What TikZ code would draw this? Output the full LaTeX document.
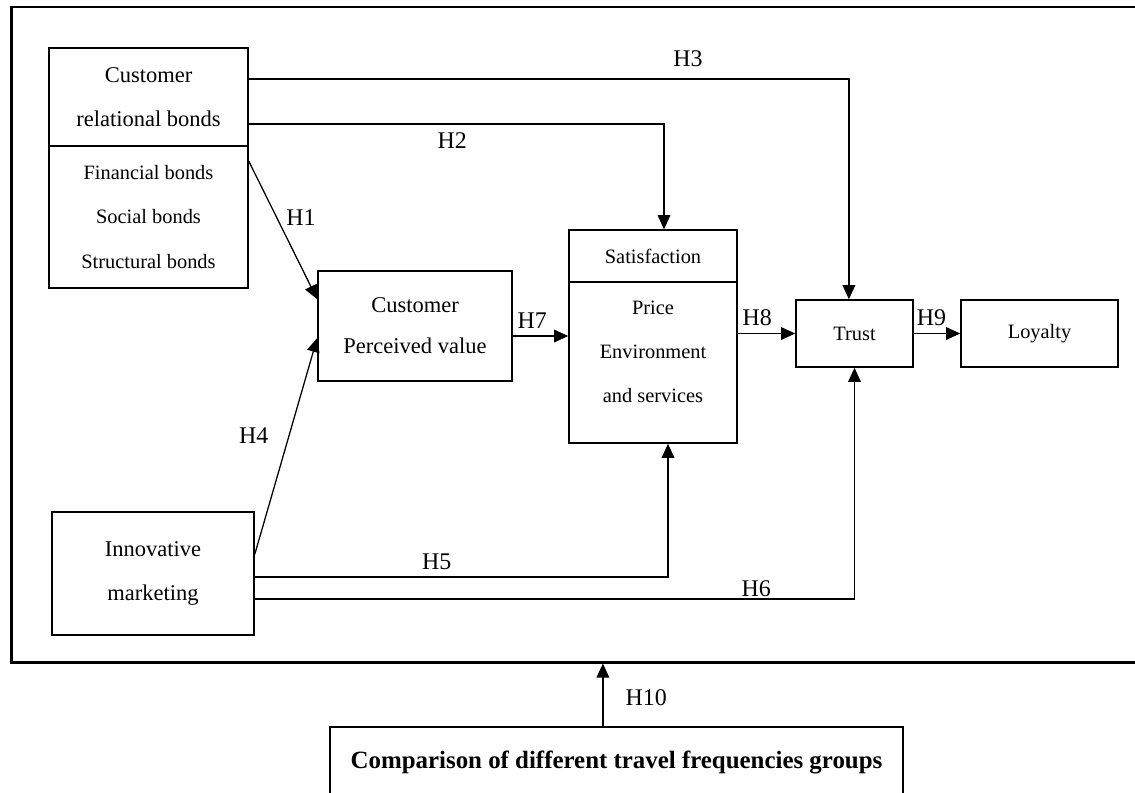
\documentclass[tikz,border=0pt]{standalone}
\usepackage{fontspec}
\setmainfont{Liberation Serif}
\usetikzlibrary{arrows.meta}

\begin{document}
\begin{tikzpicture}[
  x=0.025cm, y=-0.025cm,
  box/.style={draw, line width=1.1pt, rectangle, align=center, inner sep=0pt, font={\fontsize{14.5}{31.3}\selectfont}},
  head/.style={box, font={\fontsize{16}{31.3}\selectfont}},
  frame/.style={draw, line width=2pt, rectangle, minimum width=28.2cm, minimum height=16.375cm},
  arr/.style={-{Triangle[length=10pt,width=9pt]}, line width=0.9pt},
  lbl/.style={font={\fontsize{17}{20}\selectfont}, inner sep=0pt}
]
\useasboundingbox (0,0) rectangle (1135,792);

% outer frame (right side runs off the page)
\node[frame] (frame) at (576,334.5) {};

% relational bonds (two-part box)
\node[head, minimum width=4.975cm, minimum height=2.45cm] (crbTop) at (148.5,97) {Customer\\relational bonds};
\node[box, minimum width=4.975cm, minimum height=3.55cm] (crbBot) at (148.5,217) {Financial bonds\\Social bonds\\Structural bonds};

% perceived value
\node[head, font={\fontsize{16}{29}\selectfont}, minimum width=4.85cm, minimum height=2.75cm] (cpv) at (415,326) {Customer\\Perceived value};

% satisfaction (two-part box, items sit high)
\node[box, minimum width=4.2cm, minimum height=1.3cm] (satTop) at (653,256) {Satisfaction};
\node[box, minimum width=4.2cm, minimum height=4.025cm] (satBot) at (653,362.5) {Price\\Environment\\and services\\[-15.7pt]\mbox{}};

% trust and loyalty
\node[box, minimum width=2.925cm, minimum height=1.675cm] (trust) at (854.5,333.5) {Trust};
\node[box, minimum width=3.925cm, minimum height=1.675cm] (loyal) at (1039.5,333.5) {Loyalty};

% innovative marketing
\node[head, minimum width=5.05cm, minimum height=3.075cm] (innov) at (153,573.5) {Innovative\\marketing};

% group comparison (bottom runs off the page)
\node[box, font={\fontsize{17.7}{20}\selectfont\bfseries}, minimum width=14.325cm, minimum height=1.75cm] (cmp) at (616.5,762) {Comparison of different travel frequencies groups};

% relational bonds -> trust / satisfaction / value
\draw[arr] ([yshift=0.45cm]crbTop.east) -| node[lbl, pos=0.366, above=0.3cm] {H3} ([xshift=-0.14cm]trust.north);
\draw[arr] ([yshift=-0.675cm]crbTop.east) -| node[lbl, pos=0.245, below=0.2cm] {H2} ([xshift=0.275cm]satTop.north);
\draw[arr] ([yshift=-0.4cm]crbBot.north east) -- node[lbl, pos=0.41, right=0.22cm] {H1} ([yshift=-0.725cm]cpv.north west);

% innovative marketing -> value / satisfaction / trust
\draw[arr] ([yshift=-1.075cm]innov.north east) -- node[lbl, pos=0.548, left=0.5cm] {H4} ([yshift=-0.3cm]cpv.west);
\draw[arr] ([yshift=-0.0875cm]innov.east) -| node[lbl, pos=0.22, above=0.17cm] {H5} ([xshift=0.375cm]satBot.south);
\draw[arr] ([yshift=-0.6375cm]innov.east) -| node[lbl, pos=0.418, above=0.05cm] {H6} (trust.south);

% main chain
\coordinate (h7) at ([yshift=-0.25cm]cpv.east);
\draw[arr] (h7) -- node[lbl, pos=0.35, above=0.17cm] {H7} (h7 -| satBot.west);
\draw[arr] (trust.west -| satBot.east) -- node[lbl, pos=0.34, above=0.17cm] {H8} (trust.west);
\draw[arr] (trust.east) -- node[lbl, pos=0.38, above=0.17cm] {H9} (loyal.west);

% moderation
\coordinate (h10) at ([xshift=-0.34cm]cmp.north);
\draw[arr] (h10) -- node[lbl, pos=0.46, right=0.55cm] {H10} (h10 |- frame.south);

\end{tikzpicture}
\end{document}
